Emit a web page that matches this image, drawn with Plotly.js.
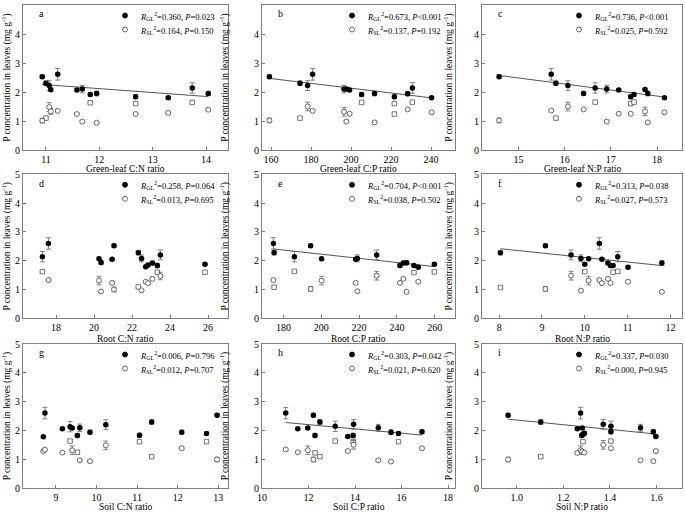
<!DOCTYPE html>
<html><head><meta charset="utf-8">
<script src="https://cdn.plot.ly/plotly-3.0.1.min.js"></script>
<style>html,body{margin:0;padding:0;background:#fff}#chart{width:685px;height:513px}</style>
</head><body><div id="chart"></div>
<script>
// ---- Panel a: Green-leaf C:N ----
const aGLx = [10.93, 11.00, 11.06, 11.09, 11.22, 11.58, 11.68, 11.83, 11.95, 12.68, 13.29, 13.74, 14.04];
const aGLy = [2.53, 2.30, 2.22, 2.08, 2.61, 2.07, 2.10, 1.91, 1.95, 1.84, 1.80, 2.14, 1.95];
const aGLe = [0.06, 0.08, 0.17, 0.06, 0.20, 0.05, 0.13, 0.06, 0.08, 0.07, 0.04, 0.18, 0.07];
const aSLx = [10.93, 11.06, 11.09, 11.22, 11.58, 11.68, 11.95, 12.68, 13.29, 14.04];
const aSLy = [1.01, 1.48, 1.33, 1.35, 1.24, 0.98, 0.94, 1.24, 1.28, 1.39];
const aSLe = [0.08, 0.15, 0.10, 0.03, 0.03, 0.03, 0.03, 0.03, 0.03, 0.03];
const aSQx = [11.00, 11.83, 12.68, 13.74];
const aSQy = [1.10, 1.63, 1.60, 1.64];
// ---- Panel b: Green-leaf C:P ----
const bGLx = [159.2, 174.5, 178.3, 180.8, 196.5, 197.7, 199.3, 205.3, 211.8, 221.7, 228.3, 230.7, 240.3];
const bGLy = [2.53, 2.30, 2.22, 2.61, 2.10, 2.10, 2.07, 1.91, 1.95, 1.84, 1.94, 2.14, 1.80];
const bGLe = [0.06, 0.08, 0.17, 0.20, 0.13, 0.05, 0.05, 0.06, 0.08, 0.07, 0.07, 0.18, 0.04];
const bSLx = [159.2, 178.3, 180.8, 196.5, 197.7, 199.3, 211.8, 228.3, 240.3];
const bSLy = [1.02, 1.50, 1.35, 1.32, 0.98, 1.25, 0.95, 1.40, 1.30];
const bSLe = [0.08, 0.15, 0.03, 0.15, 0.03, 0.03, 0.03, 0.03, 0.03];
const bSQx = [174.5, 205.3, 221.7, 221.7, 230.7];
const bSQy = [1.10, 1.64, 1.60, 1.24, 1.65];
// ---- Panel c: Green-leaf N:P ----
const cGLx = [14.58, 15.71, 15.81, 16.07, 16.41, 16.66, 16.91, 17.17, 17.43, 17.50, 17.74, 17.80, 18.16];
const cGLy = [2.53, 2.61, 2.30, 2.22, 1.95, 2.14, 2.10, 2.07, 1.84, 1.91, 2.09, 1.95, 1.80];
const cGLe = [0.06, 0.20, 0.08, 0.17, 0.07, 0.18, 0.13, 0.04, 0.07, 0.06, 0.04, 0.08, 0.04];
const cSLx = [14.58, 15.71, 16.07, 16.41, 16.91, 17.17, 17.43, 17.74, 17.80, 18.16];
const cSLy = [1.02, 1.36, 1.50, 1.40, 0.98, 1.25, 1.25, 1.33, 0.95, 1.30];
const cSLe = [0.08, 0.03, 0.15, 0.03, 0.03, 0.03, 0.03, 0.15, 0.03, 0.03];
const cSQx = [15.81, 16.66, 17.43, 17.50];
const cSQy = [1.10, 1.65, 1.60, 1.65];
// ---- Panel d: Root C:N ----
const dGLx = [17.28, 17.60, 20.26, 20.37, 20.95, 21.05, 22.33, 22.50, 22.72, 22.84, 23.07, 23.33, 23.49, 25.84];
const dGLy = [2.14, 2.60, 2.07, 1.94, 2.05, 2.52, 2.28, 2.08, 1.79, 1.85, 1.92, 1.83, 2.20, 1.88];
const dGLe = [0.18, 0.20, 0.05, 0.08, 0.04, 0.06, 0.08, 0.12, 0.04, 0.05, 0.06, 0.08, 0.17, 0.05];
const dSLx = [17.60, 20.26, 20.37, 20.95, 21.05, 22.50, 22.72, 22.84, 23.07, 23.49];
const dSLy = [1.33, 1.31, 0.93, 1.23, 1.00, 0.97, 1.27, 1.22, 1.37, 1.47];
const dSLe = [0.03, 0.15, 0.03, 0.03, 0.08, 0.03, 0.03, 0.03, 0.03, 0.13];
const dSQx = [17.28, 22.33, 23.33, 25.84];
const dSQy = [1.62, 1.09, 1.60, 1.60];
// ---- Panel e: Root C:P ----
const eGLx = [174.7, 175.1, 185.8, 194.4, 200.2, 218.2, 219.1, 229.3, 241.6, 243.4, 245.1, 249.0, 251.3, 259.8];
const eGLy = [2.60, 2.28, 2.14, 2.52, 2.07, 2.05, 2.08, 2.20, 1.83, 1.92, 1.93, 1.83, 1.77, 1.88];
const eGLe = [0.20, 0.08, 0.18, 0.06, 0.05, 0.04, 0.12, 0.17, 0.07, 0.06, 0.08, 0.05, 0.04, 0.05];
const eSLx = [174.7, 194.4, 200.2, 218.2, 219.1, 229.3, 241.6, 243.4, 245.1, 251.3];
const eSLy = [1.33, 1.02, 1.31, 1.23, 0.94, 1.48, 1.23, 1.37, 0.92, 1.27];
const eSLe = [0.03, 0.08, 0.15, 0.03, 0.03, 0.15, 0.03, 0.03, 0.03, 0.03];
const eSQx = [175.1, 185.8, 249.0, 259.8];
const eSQy = [1.08, 1.63, 1.59, 1.61];
// ---- Panel f: Root N:P ----
const fGLx = [8.03, 9.08, 9.68, 9.91, 10.00, 10.09, 10.34, 10.40, 10.54, 10.60, 10.66, 10.77, 11.01, 11.80];
const fGLy = [2.28, 2.52, 2.20, 2.08, 1.88, 2.07, 2.60, 2.05, 1.92, 1.83, 1.83, 2.14, 1.77, 1.92];
const fGLe = [0.08, 0.06, 0.17, 0.12, 0.05, 0.05, 0.20, 0.04, 0.06, 0.07, 0.05, 0.18, 0.04, 0.08];
const fSLx = [9.08, 9.68, 9.91, 10.09, 10.34, 10.40, 10.54, 10.60, 11.01, 11.80];
const fSLy = [1.02, 1.48, 0.96, 1.31, 1.33, 1.22, 1.37, 1.22, 1.27, 0.92];
const fSLe = [0.08, 0.15, 0.03, 0.15, 0.03, 0.03, 0.03, 0.03, 0.03, 0.03];
const fSQx = [8.03, 10.00, 10.66, 10.77];
const fSQy = [1.07, 1.62, 1.60, 1.63];
// ---- Panel g: Soil C:N ----
const gGLx = [8.69, 8.73, 9.16, 9.35, 9.40, 9.53, 9.59, 9.84, 10.23, 11.06, 11.36, 12.10, 12.71, 12.97];
const gGLy = [1.78, 2.60, 2.06, 2.13, 2.08, 1.82, 2.09, 1.94, 2.20, 1.83, 2.29, 1.94, 1.89, 2.53];
const gGLe = [0.04, 0.20, 0.04, 0.18, 0.05, 0.07, 0.13, 0.07, 0.17, 0.07, 0.08, 0.07, 0.05, 0.06];
const gSLx = [8.69, 8.73, 9.16, 9.40, 9.59, 9.84, 10.23, 12.10, 12.97];
const gSLy = [1.28, 1.33, 1.23, 1.31, 0.96, 0.93, 1.48, 1.38, 0.99];
const gSLe = [0.03, 0.03, 0.03, 0.15, 0.03, 0.03, 0.15, 0.03, 0.08];
const gSQx = [9.35, 9.53, 11.06, 11.36, 12.71];
const gSQy = [1.63, 1.24, 1.61, 1.09, 1.61];
// ---- Panel h: Soil C:P ----
const hGLx = [11.02, 11.54, 11.97, 12.21, 12.28, 12.49, 13.15, 13.69, 13.92, 13.94, 15.00, 15.55, 15.87, 16.88];
const hGLy = [2.60, 2.06, 2.08, 2.53, 1.82, 2.29, 2.14, 1.79, 1.82, 2.21, 2.09, 1.94, 1.89, 1.95];
const hGLe = [0.20, 0.04, 0.05, 0.06, 0.07, 0.08, 0.18, 0.04, 0.08, 0.17, 0.12, 0.08, 0.05, 0.07];
const hSLx = [11.02, 11.54, 11.97, 12.21, 13.69, 13.94, 15.00, 15.55, 16.88];
const hSLy = [1.34, 1.24, 1.31, 0.99, 1.28, 1.50, 0.96, 0.92, 1.38];
const hSLe = [0.03, 0.03, 0.15, 0.08, 0.03, 0.15, 0.03, 0.03, 0.03];
const hSQx = [12.28, 12.49, 13.15, 13.92, 15.87];
const hSQy = [1.22, 1.09, 1.63, 1.61, 1.61];
// ---- Panel i: Soil N:P ----
const iGLx = [0.963, 1.103, 1.260, 1.274, 1.281, 1.279, 1.284, 1.290, 1.371, 1.404, 1.404, 1.531, 1.586, 1.597];
const iGLy = [2.53, 2.29, 2.06, 2.60, 2.08, 1.82, 1.87, 1.90, 2.21, 2.14, 1.95, 2.09, 1.95, 1.79];
const iGLe = [0.06, 0.08, 0.04, 0.20, 0.05, 0.07, 0.06, 0.06, 0.17, 0.18, 0.07, 0.12, 0.08, 0.04];
const iSLx = [0.963, 1.260, 1.274, 1.281, 1.290, 1.371, 1.404, 1.531, 1.586, 1.597];
const iSLy = [0.99, 1.22, 1.31, 1.27, 1.23, 1.50, 1.38, 0.96, 0.93, 1.28];
const iSLe = [0.08, 0.03, 0.15, 0.03, 0.03, 0.15, 0.03, 0.03, 0.03, 0.03];
const iSQx = [1.103, 1.284, 1.404];
const iSQy = [1.09, 1.61, 1.63];

// ---- Labels and statistics ----
const panelLetters = ['a','b','c','d','e','f','g','h','i'];
const xTitles = ['Green-leaf C:N ratio','Green-leaf C:P ratio','Green-leaf N:P ratio',
                 'Root C:N ratio','Root C:P ratio','Root N:P ratio',
                 'Soil C:N ratio','Soil C:P ratio','Soil N:P ratio'];
const rGL = ['0.360','0.673','0.736','0.258','0.704','0.313','0.006','0.303','0.337'];
const pGL = ['=0.023','<0.001','<0.001','=0.064','<0.001','=0.038','=0.796','=0.042','=0.030'];
const rSL = ['0.164','0.137','0.025','0.013','0.038','0.027','0.012','0.021','0.000'];
const pSL = ['=0.150','=0.192','=0.592','=0.695','=0.502','=0.573','=0.707','=0.620','=0.945'];
const showFit = [true, true, true, false, true, true, false, true, true];
const xTickVals = [[11,12,13,14],[160,180,200,220,240],[15,16,17,18],
                   [18,20,22,24,26],[180,200,220,240,260],[8,9,10,11,12],
                   [9,10,11,12,13],[10,12,14,16,18],[1.0,1.2,1.4,1.6]];
const yTickVals = [0,1,2,3,4,5];
const yTitle = 'P concentration in leaves (mg g<sup>-1</sup>)';

const GLX=[aGLx,bGLx,cGLx,dGLx,eGLx,fGLx,gGLx,hGLx,iGLx];
const GLY=[aGLy,bGLy,cGLy,dGLy,eGLy,fGLy,gGLy,hGLy,iGLy];
const GLE=[aGLe,bGLe,cGLe,dGLe,eGLe,fGLe,gGLe,hGLe,iGLe];
const SLX=[aSLx,bSLx,cSLx,dSLx,eSLx,fSLx,gSLx,hSLx,iSLx];
const SLY=[aSLy,bSLy,cSLy,dSLy,eSLy,fSLy,gSLy,hSLy,iSLy];
const SLE=[aSLe,bSLe,cSLe,dSLe,eSLe,fSLe,gSLe,hSLe,iSLe];
const SQX=[aSQx,bSQx,cSQx,dSQx,eSQx,fSQx,gSQx,hSQx,iSQx];
const SQY=[aSQy,bSQy,cSQy,dSQy,eSQy,fSQy,gSQy,hSQy,iSQy];

// ---- Layout geometry ----
const W = 685, H = 513, MB = 25, PH = H - MB;
const colPx = [[23,228],[262,455],[482,682]];
const rowPx = [[5,150],[174.3,318.3],[344,488]];
const xTitleY = [169, 339, 507];
const xRanges = [[10.57,14.41],[155.5,252],[14.21,18.54],
                 [16.26,27.05],[168.7,270.7],[7.6,12.27],
                 [8.19,13.24],[10,18.3],[0.851,1.709]];
const yStand = [3, 23, 19];
const FONT = 'Liberation Serif, Times New Roman, serif';
const AX = '#808080';
const px2x = p => p / W;
const px2y = p => 1 - p / PH;

const traces = [];
const layout = {
  width: W, height: H, margin: {l:0, r:0, t:0, b:MB},
  paper_bgcolor: '#fff', plot_bgcolor: '#fff',
  font: {family: FONT, size: 10, color: '#000'},
  showlegend: false, annotations: [], shapes: []
};

function fit(xs, ys) {
  const n = xs.length;
  const mx = xs.reduce((s,v)=>s+v,0)/n, my = ys.reduce((s,v)=>s+v,0)/n;
  let sxy = 0, sxx = 0;
  for (let j=0;j<n;j++){ sxy += (xs[j]-mx)*(ys[j]-my); sxx += (xs[j]-mx)**2; }
  const b = sxy/sxx, a = my - b*mx;
  const x0 = Math.min(...xs), x1 = Math.max(...xs);
  return {x:[x0,x1], y:[a+b*x0, a+b*x1]};
}

function legendRows(k, c, r) {
  const right = colPx[c][1], top = rowPx[r][0];
  const rows = [
    {fill:'#000', line:'#000', txt:'<i>R</i><sub>GL</sub><sup>2</sup>='+rGL[k]+', <i>P</i>'+pGL[k], dy: 10.5},
    {fill:'#fff', line:'#444', txt:'<i>R</i><sub>SL</sub><sup>2</sup>='+rSL[k]+', <i>P</i>'+pSL[k], dy: 24.5}
  ];
  rows.forEach(rw => {
    layout.shapes.push({type:'circle', xref:'paper', yref:'paper',
      xsizemode:'pixel', ysizemode:'pixel', xanchor: px2x(right-103), yanchor: px2y(top+rw.dy),
      x0:-2.5, x1:2.5, y0:-2.5, y1:2.5, fillcolor: rw.fill, line:{color: rw.line, width:0.8}});
    layout.annotations.push({text: rw.txt, xref:'paper', yref:'paper',
      x: px2x(right-90), y: px2y(top+rw.dy+1), xanchor:'left', yanchor:'middle',
      showarrow:false, font:{family:FONT, size:8.5, color:'#000'}});
  });
}

for (let k=0;k<9;k++){
  const r = Math.floor(k/3), c = k%3;
  const sfx = k===0 ? '' : String(k+1);
  const xa = 'x'+sfx, ya = 'y'+sfx;
  layout['xaxis'+sfx] = {
    domain: [px2x(colPx[c][0]), px2x(colPx[c][1])], anchor: ya, range: xRanges[k],
    tickmode: 'array', tickvals: xTickVals[k],
    ticktext: xTickVals[k].map(v => k===8 ? v.toFixed(1) : String(v)),
    ticks: 'inside', ticklen: 3, tickcolor: AX, showline: true, linecolor: AX, linewidth: 1,
    mirror: true, showgrid: false, zeroline: false, automargin: false,
    tickfont: {family: FONT, size: 10}
  };
  layout['yaxis'+sfx] = {
    domain: [Math.max(0, px2y(rowPx[r][1])), px2y(rowPx[r][0])], anchor: xa, range: [0,5],
    tickmode: 'array', tickvals: yTickVals,
    ticks: 'inside', ticklen: 3, tickcolor: AX, showline: true, linecolor: AX, linewidth: 1,
    mirror: true, showgrid: false, zeroline: false, automargin: false,
    tickfont: {family: FONT, size: 10},
    title: {text: yTitle, font: {family: FONT, size: 9.5}, standoff: yStand[c]}
  };
  // x-axis title, centred under the panel
  layout.annotations.push({
    text: xTitles[k], xref: xa+' domain', yref: 'paper', x: 0.5, y: px2y(xTitleY[r]),
    xanchor: 'center', yanchor: 'middle', showarrow: false, font: {family: FONT, size: 9.5}
  });
  layout.annotations.push({
    text: panelLetters[k], xref: xa+' domain', yref: ya+' domain', x: 0.07, y: 0.99,
    xanchor: 'left', yanchor: 'top', showarrow: false, font: {family: FONT, size: 10}
  });
  legendRows(k, c, r);

  if (showFit[k]) {
    const f = fit(GLX[k], GLY[k]);
    traces.push({type:'scatter', mode:'lines', x:f.x, y:f.y, xaxis:xa, yaxis:ya,
      line:{color:'#555', width:1}, hoverinfo:'skip'});
  }
  traces.push({type:'scatter', mode:'markers', x:SQX[k], y:SQY[k], xaxis:xa, yaxis:ya,
    marker:{symbol:'square', size:4.5, color:'#fff', line:{color:'#555', width:0.8}},
    error_y:{type:'data', array:SQY[k].map(()=>0.04), color:'#777', thickness:0.8, width:2.5}});
  traces.push({type:'scatter', mode:'markers', x:SLX[k], y:SLY[k], xaxis:xa, yaxis:ya,
    marker:{symbol:'circle', size:5, color:'#fff', line:{color:'#444', width:0.8}},
    error_y:{type:'data', array:SLE[k], color:'#666', thickness:0.8, width:2.5}});
  traces.push({type:'scatter', mode:'markers', x:GLX[k], y:GLY[k], xaxis:xa, yaxis:ya,
    marker:{symbol:'circle', size:5.5, color:'#000'},
    error_y:{type:'data', array:GLE[k], color:'#666', thickness:0.8, width:2.5}});
}

Plotly.newPlot('chart', traces, layout, {staticPlot: true});
</script></body></html>
